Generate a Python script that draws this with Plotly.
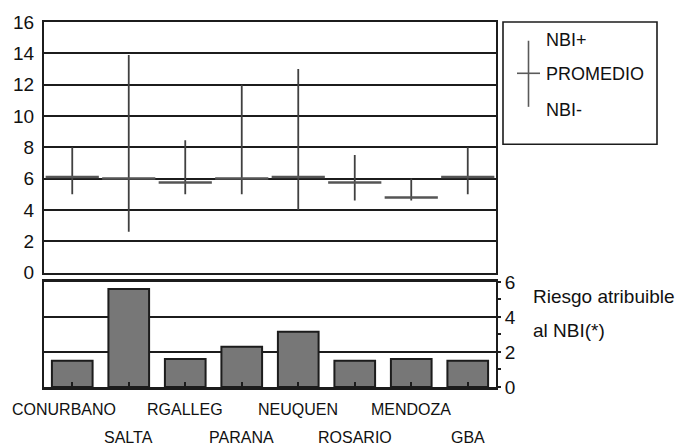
import plotly.graph_objects as go
from plotly.subplots import make_subplots

# Localidades
categorias = ["CONURBANO", "SALTA", "RGALLEG", "PARANA", "NEUQUEN", "ROSARIO", "MENDOZA", "GBA"]
# Valores con NBI (+), promedio y sin NBI (-)
nbi_mas = [8.0, 13.9, 8.45, 12.0, 13.0, 7.5, 6.0, 8.0]
promedio = [6.1, 6.0, 5.75, 6.0, 6.1, 5.75, 4.8, 6.1]
nbi_menos = [5.0, 2.6, 5.0, 5.0, 4.0, 4.6, 4.6, 5.0]
# Riesgo atribuible al NBI
riesgo = [1.5, 5.6, 1.6, 2.3, 3.15, 1.5, 1.6, 1.5]

top_ticks = list(range(0, 17, 2))
bottom_ticks = [0, 2, 4, 6]

W, H = 682, 448
ML, MR, MT, MB = 44, 186, 17, 61
PW, PH = W - ML - MR, H - MT - MB

FONT = "Liberation Sans, Arial, sans-serif"
DARK = "#1c1c1c"


def px(x):
    return (x - ML) / PW


def py(y):
    return (H - MB - y) / PH


fig = make_subplots(rows=2, cols=1, shared_xaxes=True, vertical_spacing=0.0)

fig.add_trace(
    go.Scatter(
        x=categorias,
        y=promedio,
        mode="markers",
        marker=dict(symbol="line-ew", size=38, line=dict(width=2.5, color="#555555")),
        error_y=dict(
            type="data",
            symmetric=False,
            array=[p - m for p, m in zip(nbi_mas, promedio)],
            arrayminus=[m - n for m, n in zip(promedio, nbi_menos)],
            width=0,
            thickness=1.8,
            color="#404040",
        ),
        showlegend=False,
        hoverinfo="skip",
    ),
    row=1, col=1,
)

fig.add_trace(
    go.Bar(
        x=categorias,
        y=riesgo,
        marker=dict(color="#777777", line=dict(color=DARK, width=2)),
        width=0.72,
        showlegend=False,
        hoverinfo="skip",
    ),
    row=2, col=1,
)

fig.update_layout(
    width=W,
    height=H,
    margin=dict(l=ML, r=MR, t=MT, b=MB),
    paper_bgcolor="white",
    plot_bgcolor="white",
    font=dict(family=FONT, size=18, color="#111111"),
)

xrange = [-0.5, len(categorias) - 0.5]
fig.update_xaxes(
    row=1, col=1, range=xrange,
    showticklabels=False, ticks="", showgrid=False,
    showline=True, linecolor=DARK, linewidth=2, mirror=True,
)
fig.update_xaxes(
    row=2, col=1, range=xrange,
    showticklabels=False, ticks="inside", ticklen=5, tickwidth=2, tickcolor=DARK,
    showgrid=False, showline=True, linecolor=DARK, linewidth=2.5, mirror=True,
)

fig.update_yaxes(
    row=1, col=1,
    domain=[py(271), 1.0],
    range=[0, 16], tickvals=top_ticks, ticks="", ticklabelstandoff=4,
    tickfont=dict(family=FONT, size=19),
    showgrid=True, gridcolor=DARK, gridwidth=1.6,
    showline=True, linecolor=DARK, linewidth=2, mirror=True, zeroline=False,
)
fig.update_yaxes(
    row=2, col=1,
    domain=[0.0, py(280.5)],
    range=[0, 6], tickvals=bottom_ticks, side="right",
    ticks="", ticklabelstandoff=3,
    tickfont=dict(family=FONT, size=19),
    minor=dict(dtick=1, ticks="outside", ticklen=3, tickcolor=DARK, tickwidth=1.5, showgrid=False),
    showgrid=True, gridcolor=DARK, gridwidth=1.6,
    showline=True, linecolor=DARK, linewidth=2, mirror=True, zeroline=False,
)

# Etiquetas de localidades en dos filas alternadas
for i, c in enumerate(categorias):
    fila = 410 if i % 2 == 0 else 438
    fig.add_annotation(
        x=c, xref="x2", y=py(fila), yref="paper",
        text=c, showarrow=False, xanchor="center", yanchor="middle",
        xshift=-8 if i == 0 else 0,
        font=dict(family=FONT, size=16),
    )

# Leyenda
fig.add_shape(type="rect", xref="paper", yref="paper",
              x0=px(503), x1=px(657), y0=py(141), y1=py(17),
              line=dict(color=DARK, width=1.6), fillcolor="white")
fig.add_shape(type="line", xref="paper", yref="paper",
              x0=px(528.5), x1=px(528.5), y0=py(36), y1=py(103),
              line=dict(color="#5a5a5a", width=1.6))
fig.add_shape(type="line", xref="paper", yref="paper",
              x0=px(517), x1=px(540), y0=py(69), y1=py(69),
              line=dict(color="#5a5a5a", width=1.6))
for texto, yy in [("NBI+", 35), ("PROMEDIO", 69.5), ("NBI-", 106)]:
    fig.add_annotation(
        x=px(544), xref="paper", y=py(yy), yref="paper",
        text=texto, showarrow=False, xanchor="left", yanchor="middle",
        font=dict(family=FONT, size=18),
    )

for texto, yy in [("Riesgo atribuible", 295), ("al NBI(*)", 330)]:
    fig.add_annotation(
        x=px(531), xref="paper", y=py(yy), yref="paper",
        text=texto, showarrow=False, xanchor="left", yanchor="middle",
        font=dict(family=FONT, size=19),
    )

fig.write_html("out.html")
